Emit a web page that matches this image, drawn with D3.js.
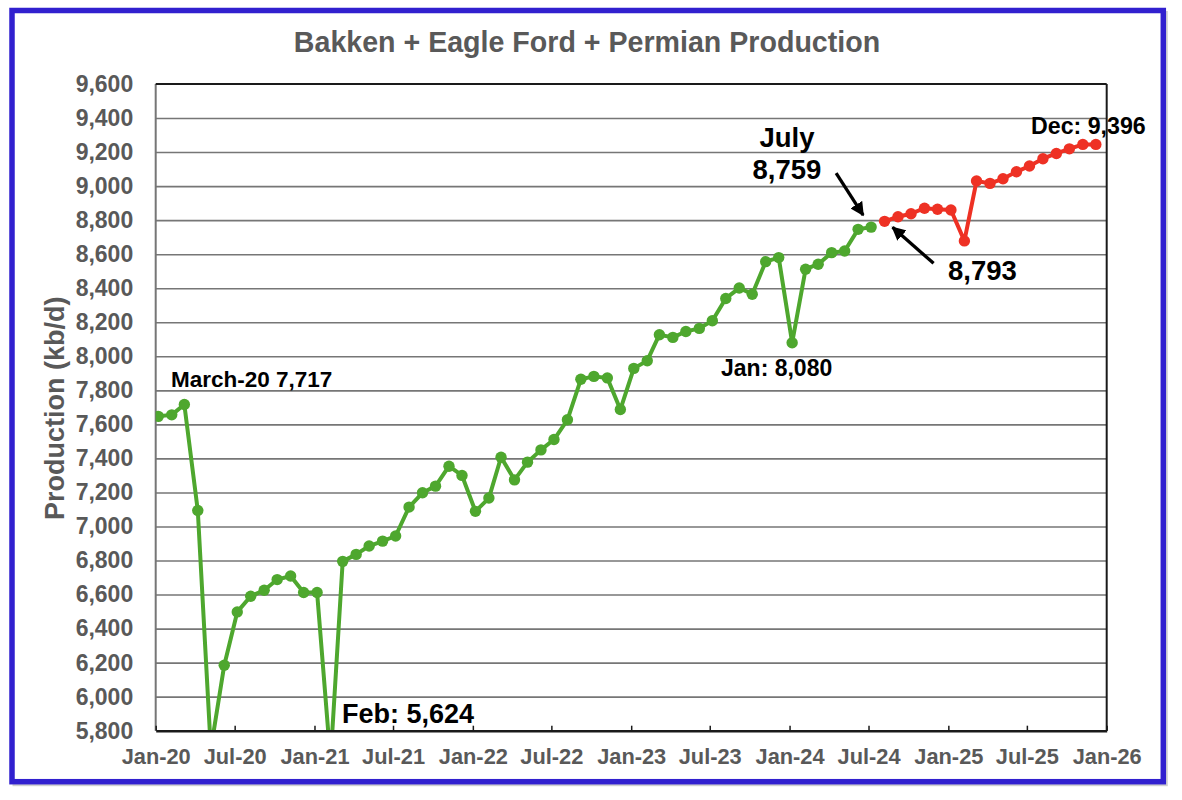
<!DOCTYPE html>
<html><head><meta charset="utf-8">
<script src="https://cdn.jsdelivr.net/npm/d3@7"></script>
<style>
body{margin:0;background:#fff}
svg text{font-family:"Liberation Sans",Arial,sans-serif;font-weight:bold}
</style>
</head><body>
<svg id="chart" width="1182" height="800"></svg>
<script>
// ---- data ----
const title = "Bakken + Eagle Ford + Permian Production";
const yTitle = "Production (kb/d)";
const firstMonth = new Date(2020, 0, 1);
const lastAxisMonth = new Date(2026, 0, 1);
// Actual production Jan-20 .. Jul-24 (kb/d)
const actualValues = [
  7647, 7656, 7717, 7094, 5690, 6185, 6498, 6590, 6625, 6688, 6709, 6612,
  6612, 5624, 6795, 6836, 6885, 6914, 6944, 7114, 7198, 7237, 7354, 7300,
  7089, 7167, 7407, 7274, 7378, 7450, 7511, 7627, 7865, 7882, 7873, 7687,
  7929, 7974, 8127, 8111, 8146, 8164, 8209, 8340, 8401, 8365, 8556, 8580,
  8080, 8512, 8541, 8609, 8619, 8746, 8759
];
// Forecast Aug-24 .. Dec-25 (kb/d)
const forecastValues = [
  8793, 8820, 8838, 8870, 8864,
  8860, 8678, 9030, 9016, 9043, 9084, 9118, 9161, 9192, 9219, 9245, 9245
];
const yTicks = [5800,6000,6200,6400,6600,6800,7000,7200,7400,7600,7800,8000,8200,8400,8600,8800,9000,9200,9400,9600];
const yDomain = [5800, 9600];

// ---- layout ----
const svg = d3.select("#chart");
const L = 155.7, R = 1106.7, T = 84, B = 730.7;

const months = d3.timeMonth.range(firstMonth, d3.timeMonth.offset(firstMonth, actualValues.length + forecastValues.length));
const pointDate = m => d3.timeDay.offset(m, 6);
const actual = actualValues.map((v, i) => ({d: pointDate(months[i]), v}));
const forecast = forecastValues.map((v, i) => ({d: pointDate(months[actualValues.length + i]), v}));

const x = d3.scaleTime().domain([firstMonth, lastAxisMonth]).range([L, R]);
const y = d3.scaleLinear().domain(yDomain).range([B, T]);

// outer frame
svg.append("rect").attr("x", 0).attr("y", 0).attr("width", 1182).attr("height", 800).attr("fill", "#fff");
svg.append("rect").attr("x", 14.5).attr("y", 13).attr("width", 1151.3).attr("height", 771.2)
  .attr("fill", "none").attr("stroke", "#d0d0d0").attr("stroke-width", 4);
svg.append("rect").attr("x", 12).attr("y", 10.5).attr("width", 1151.3).attr("height", 771.2)
  .attr("fill", "#fff").attr("stroke", "#3120cf").attr("stroke-width", 5.5);

// title
svg.append("text").attr("x", 587).attr("y", 52).attr("text-anchor", "middle")
  .attr("font-size", 28.6).attr("fill", "#595959").text(title);

// y grid
const gridAxis = d3.axisLeft(y).tickValues(yTicks.filter(t => t > yDomain[0] && t < yDomain[1]))
  .tickSize(-(R - L)).tickFormat("");
const gg = svg.append("g").attr("transform", `translate(${L},0)`).call(gridAxis);
gg.select(".domain").remove();
gg.selectAll(".tick line").attr("stroke", "#767676").attr("stroke-width", 1.6);

// y labels
const yAxis = d3.axisLeft(y).tickValues(yTicks).tickSize(0).tickPadding(22.5).tickFormat(d3.format(","));
const ya = svg.append("g").attr("transform", `translate(${L},0)`).call(yAxis);
ya.select(".domain").remove();
ya.selectAll("text").attr("font-size", 23).attr("fill", "#595959")
  .style("font-family", '"Liberation Sans",Arial,sans-serif').style("font-weight", "bold");

// plot border: left gray, top/right/bottom black
svg.append("line").attr("x1", L).attr("x2", L).attr("y1", T).attr("y2", B).attr("stroke", "#767676").attr("stroke-width", 2);
svg.append("line").attr("x1", L).attr("x2", R).attr("y1", T).attr("y2", T).attr("stroke", "#1a1a1a").attr("stroke-width", 2);
svg.append("line").attr("x1", R).attr("x2", R).attr("y1", T).attr("y2", B).attr("stroke", "#1a1a1a").attr("stroke-width", 2);

// y title
svg.append("text").attr("transform", `translate(64,${(T + B) / 2 + 1}) rotate(-90)`)
  .attr("text-anchor", "middle").attr("font-size", 27).attr("fill", "#595959").text(yTitle);

// series (clipped to plot area)
svg.append("clipPath").attr("id", "clip").append("rect")
  .attr("x", L).attr("y", T - 10).attr("width", R - L + 10).attr("height", B - T + 10);
const plot = svg.append("g").attr("clip-path", "url(#clip)");
const line = d3.line().x(d => x(d.d)).y(d => y(d.v));
function drawSeries(data, color) {
  plot.append("path").datum(data).attr("d", line).attr("fill", "none")
    .attr("stroke", color).attr("stroke-width", 4).attr("stroke-linejoin", "round");
  plot.selectAll(null).data(data).enter().append("circle")
    .attr("cx", d => x(d.d)).attr("cy", d => y(d.v)).attr("r", 5.7).attr("fill", color);
}
drawSeries(actual, "#4ea72e");
drawSeries(forecast, "#ee3124");

// x axis
const xAxis = d3.axisBottom(x).ticks(d3.timeMonth.every(6)).tickSizeInner(-5).tickSizeOuter(0)
  .tickPadding(18).tickFormat(d3.timeFormat("%b-%y"));
const xa = svg.append("g").attr("transform", `translate(0,${B})`).call(xAxis);
xa.select(".domain").attr("stroke", "#1a1a1a").attr("stroke-width", 2.5);
xa.selectAll(".tick line").attr("stroke", "#1a1a1a").attr("stroke-width", 1.5);
xa.selectAll("text").attr("font-size", 21.8).attr("fill", "#595959")
  .style("font-family", '"Liberation Sans",Arial,sans-serif').style("font-weight", "bold");

// annotations
const ann = svg.append("g").attr("fill", "#000");
ann.append("text").attr("x", 171).attr("y", 386.5).attr("font-size", 22.5).text("March-20 7,717");
ann.append("text").attr("x", 342).attr("y", 723).attr("font-size", 27).text("Feb: 5,624");
ann.append("text").attr("x", 721).attr("y", 375.5).attr("font-size", 23).text("Jan: 8,080");
ann.append("text").attr("x", 787).attr("y", 146.5).attr("text-anchor", "middle").attr("font-size", 27.5).text("July");
ann.append("text").attr("x", 787).attr("y", 178.5).attr("text-anchor", "middle").attr("font-size", 27.5).text("8,759");
ann.append("text").attr("x", 948).attr("y", 280).attr("font-size", 27.5).text("8,793");
ann.append("text").attr("x", 1031).attr("y", 133.5).attr("font-size", 23.2).text("Dec: 9,396");

// arrows
const defs = svg.append("defs");
defs.append("marker").attr("id", "ah").attr("viewBox", "0 0 10 10").attr("refX", 9).attr("refY", 5)
  .attr("markerWidth", 4.2).attr("markerHeight", 4.2).attr("orient", "auto")
  .append("path").attr("d", "M0,0 L10,5 L0,10 z").attr("fill", "#000");
const julP = actual[actual.length - 1], augP = forecast[0];
svg.append("line").attr("x1", x(julP.d) - 35).attr("y1", y(julP.v) - 54)
  .attr("x2", x(julP.d) - 8).attr("y2", y(julP.v) - 12)
  .attr("stroke", "#000").attr("stroke-width", 3.3).attr("marker-end", "url(#ah)");
svg.append("line").attr("x1", x(augP.d) + 49).attr("y1", y(augP.v) + 42)
  .attr("x2", x(augP.d) + 8).attr("y2", y(augP.v) + 6)
  .attr("stroke", "#000").attr("stroke-width", 3.3).attr("marker-end", "url(#ah)");
</script>
</body></html>
